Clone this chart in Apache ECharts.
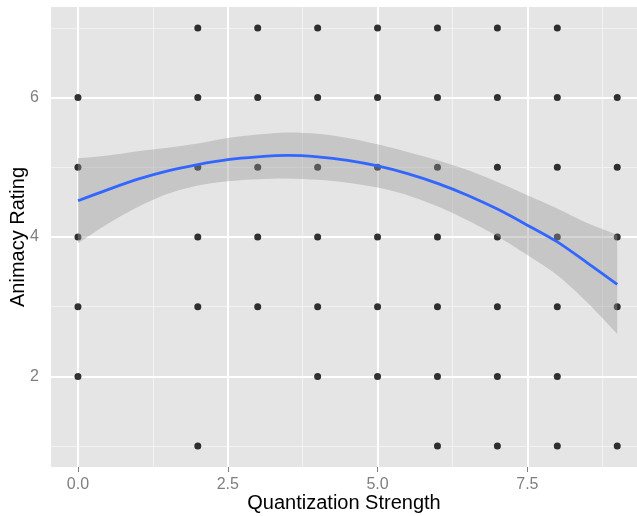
<!DOCTYPE html>
<html>
<head>
<meta charset="utf-8">
<script src="https://cdn.jsdelivr.net/npm/echarts@6/dist/echarts.min.js"></script>
<style>
  html, body { margin: 0; padding: 0; background: #fff; }
  #chart { width: 637px; height: 516px; }
</style>
</head>
<body>
<div id="chart"></div>
<script>
  // observed ratings at each quantization strength
  const strengths = [0, 2, 3, 4, 5, 6, 7, 8, 9];
  const ratings = [
    [6, 5, 4, 3, 2],
    [7, 6, 5, 4, 3, 1],
    [7, 6, 5, 4, 3],
    [7, 6, 5, 4, 3, 2],
    [7, 6, 5, 4, 3, 2],
    [7, 6, 5, 4, 3, 2, 1],
    [7, 6, 5, 4, 3, 2, 1],
    [7, 6, 5, 4, 3, 2, 1],
    [6, 5, 4, 3, 1]
  ];

  // smoother and its band, every 0.5
  const fitX = [0, 0.5, 1, 1.5, 2, 2.5, 3, 3.5, 4, 4.5, 5, 5.5, 6, 6.5, 7, 7.5, 8, 8.5, 9];
  const fitY = [4.52, 4.68, 4.83, 4.95, 5.04, 5.11, 5.15, 5.17, 5.15, 5.10, 5.02, 4.91, 4.77, 4.60, 4.40, 4.17, 3.93, 3.63, 3.32];
  const bandLow = [3.91, 4.19, 4.43, 4.62, 4.74, 4.80, 4.83, 4.84, 4.82, 4.78, 4.71, 4.60, 4.44, 4.24, 4.01, 3.74, 3.45, 3.06, 2.61];
  const bandHigh = [5.13, 5.17, 5.23, 5.28, 5.34, 5.42, 5.47, 5.50, 5.48, 5.42, 5.33, 5.22, 5.10, 4.96, 4.79, 4.60, 4.41, 4.20, 4.03];

  const xMajor = [0, 2.5, 5, 7.5];
  const xMinor = [1.25, 3.75, 6.25, 8.75];
  const yMajor = [2, 4, 6];
  const yMinor = [1, 3, 5, 7];

  let points = [];
  strengths.forEach(function (s, i) {
    ratings[i].forEach(function (r) { points.push([s, r]); });
  });

  let chart = echarts.init(document.getElementById('chart'));

  let gridLines = [];
  xMinor.forEach(function (v) {
    gridLines.push({ xAxis: v, lineStyle: { color: '#F2F2F2', width: 1, type: 'solid' } });
  });
  yMinor.forEach(function (v) {
    gridLines.push({ yAxis: v, lineStyle: { color: '#F2F2F2', width: 1, type: 'solid' } });
  });
  xMajor.forEach(function (v) {
    gridLines.push({ xAxis: v, lineStyle: { color: '#FFFFFF', width: 2, type: 'solid' } });
  });
  yMajor.forEach(function (v) {
    gridLines.push({ yAxis: v, lineStyle: { color: '#FFFFFF', width: 2, type: 'solid' } });
  });

  // confidence band as one polygon (upper edge, then lower edge back)
  // end points doubled so the smoothing keeps the corners square
  function renderBand(params, api) {
    if (params.dataIndex !== 0) return;
    let n = fitX.length - 1;
    let pts = [api.coord([fitX[0], bandHigh[0]])];
    for (let i = 0; i <= n; i++) pts.push(api.coord([fitX[i], bandHigh[i]]));
    pts.push(api.coord([fitX[n], bandHigh[n]]));
    pts.push(api.coord([fitX[n], bandLow[n]]));
    for (let i = n; i >= 0; i--) pts.push(api.coord([fitX[i], bandLow[i]]));
    pts.push(api.coord([fitX[0], bandLow[0]]));
    return {
      type: 'polygon',
      shape: { points: pts, smooth: 0.3 },
      style: { fill: 'rgba(153,153,153,0.4)', stroke: null }
    };
  }

  let option = {
    animation: false,
    textStyle: { fontFamily: 'Liberation Sans, Arial, sans-serif' },
    grid: {
      left: 51, top: 7, right: 0, bottom: 49,
      containLabel: false,
      outerBoundsMode: 'none',
      show: true,
      backgroundColor: '#E5E5E5',
      borderWidth: 0
    },
    xAxis: {
      type: 'value',
      min: -0.45,
      max: 9.33,
      name: 'Quantization Strength',
      nameLocation: 'middle',
      nameMoveOverlap: false,
      nameGap: 26,
      nameTextStyle: { color: '#000', fontSize: 20 },
      axisLine: { show: false },
      splitLine: { show: false },
      axisTick: {
        show: true, length: 5, customValues: xMajor,
        lineStyle: { color: '#7F7F7F', width: 1 }
      },
      axisLabel: {
        customValues: xMajor,
        color: '#7F7F7F', fontSize: 16, margin: 10,
        formatter: function (v) { return v.toFixed(1); }
      }
    },
    yAxis: {
      type: 'value',
      min: 0.7,
      max: 7.3,
      name: 'Animacy Rating',
      nameLocation: 'middle',
      nameMoveOverlap: false,
      nameRotate: 90,
      nameGap: 23,
      nameTextStyle: { color: '#000', fontSize: 20 },
      axisLine: { show: false },
      splitLine: { show: false },
      axisTick: {
        show: true, length: 5, customValues: yMajor,
        lineStyle: { color: '#7F7F7F', width: 1 }
      },
      axisLabel: {
        customValues: yMajor,
        color: '#7F7F7F', fontSize: 16, margin: 12
      }
    },
    series: [
      {
        type: 'line',
        data: [],
        z: 1,
        markLine: {
          silent: true,
          z: 1,
          symbol: 'none',
          label: { show: false },
          animation: false,
          data: gridLines
        }
      },
      {
        type: 'scatter',
        data: points,
        symbolSize: 7,
        itemStyle: { color: '#000' },
        z: 3
      },
      {
        type: 'custom',
        data: fitX.map(function (x, i) { return [x, bandLow[i], bandHigh[i]]; }),
        encode: { x: 0, y: [1, 2] },
        renderItem: renderBand,
        silent: true,
        z: 4
      },
      {
        type: 'line',
        data: fitX.map(function (x, i) { return [x, fitY[i]]; }),
        smooth: 0.3,
        symbol: 'none',
        lineStyle: { color: '#3366FF', width: 2.8 },
        z: 5
      }
    ]
  };

  chart.setOption(option);
</script>
</body>
</html>
